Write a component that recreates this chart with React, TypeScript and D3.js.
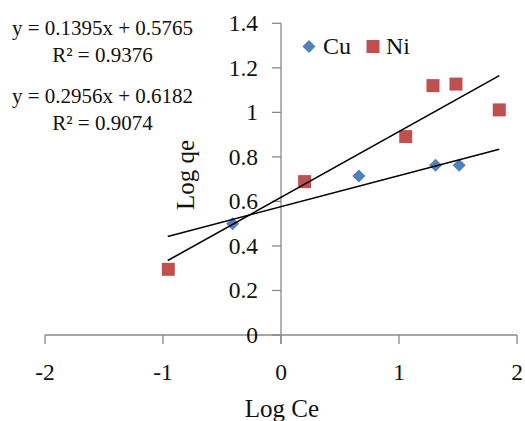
import React from "react";
import * as d3 from "d3";

const cuX = [-0.41, 0.66, 1.31, 1.51];
const cuY = [0.5, 0.714, 0.762, 0.762];
const niX = [-0.955, 0.2, 1.057, 1.288, 1.483, 1.85];
const niY = [0.295, 0.689, 0.891, 1.12, 1.127, 1.011];
const xTicks = [-2, -1, 0, 1, 2];
const yTicks = [0, 0.2, 0.4, 0.6, 0.8, 1, 1.2, 1.4];
const cuFit = { slope: 0.1395, intercept: 0.5765 };
const niFit = { slope: 0.2956, intercept: 0.6182 };
const fitRange = [-0.96, 1.85];
const eqLines = [
  "y = 0.1395x + 0.5765",
  "R² = 0.9376",
  "y = 0.2956x + 0.6182",
  "R² = 0.9074",
];

const W = 525;
const H = 421;
const FONT = "'Liberation Serif', 'Times New Roman', serif";
const BLUE = "#4F81BD";
const RED = "#C0504D";
const AXIS = "#898989";

export default function App() {
  const x = d3.scaleLinear().domain([-2, 2]).range([45, 517]);
  const y = d3.scaleLinear().domain([0, 1.4]).range([335, 23.3]);
  const x0 = x(0);
  const y0 = y(0);
  const line = d3
    .line<[number, number]>()
    .x((d) => x(d[0]))
    .y((d) => y(d[1]));
  const fitPts = (f: { slope: number; intercept: number }) =>
    fitRange.map((v) => [v, f.slope * v + f.intercept] as [number, number]);
  const fmt = (v: number) => (v === 0 ? "0" : d3.format("")(+v.toFixed(1)));
  const diamond = (cx: number, cy: number, r: number) =>
    `M${cx},${cy - r}L${cx + r},${cy}L${cx},${cy + r}L${cx - r},${cy}Z`;
  const sq = 13;

  return (
    <svg
      width={W}
      height={H}
      style={{ position: "absolute", left: 0, top: 0, background: "#fff" }}
      fontFamily={FONT}
    >
      <rect width={W} height={H} fill="#fff" />
      {/* axes */}
      <line x1={x(-2)} x2={x(2)} y1={y0} y2={y0} stroke={AXIS} strokeWidth={1.3} />
      <line x1={x0} x2={x0} y1={y(1.4)} y2={y0 + 9} stroke={AXIS} strokeWidth={1.3} />
      {xTicks.map((t) => (
        <g key={"xt" + t}>
          <line x1={x(t)} x2={x(t)} y1={y0} y2={y0 + 9} stroke={AXIS} strokeWidth={1.3} />
          <text x={x(t)} y={380} textAnchor="middle" fontSize={23.5} fill="#111">
            {t}
          </text>
        </g>
      ))}
      {yTicks.map((t) => (
        <g key={"yt" + t}>
          <line x1={x0 - 9} x2={x0} y1={y(t)} y2={y(t)} stroke={AXIS} strokeWidth={1.3} />
          <text
            x={258}
            y={y(t)}
            dy="0.34em"
            textAnchor="end"
            fontSize={23.5}
            fill="#111"
          >
            {fmt(t)}
          </text>
        </g>
      ))}
      {/* axis titles */}
      <text x={282} y={417} textAnchor="middle" fontSize={25} fill="#111">
        Log Ce
      </text>
      <text
        transform={`translate(194,175) rotate(-90)`}
        textAnchor="middle"
        fontSize={25}
        fill="#111"
      >
        Log qe
      </text>
      {/* markers */}
      {niX.map((v, i) => (
        <rect
          key={"ni" + i}
          x={x(v) - sq / 2}
          y={y(niY[i]) - sq / 2}
          width={sq}
          height={sq}
          fill={RED}
        />
      ))}
      {cuX.map((v, i) => (
        <path key={"cu" + i} d={diamond(x(v), y(cuY[i]), 6.5)} fill={BLUE} />
      ))}
      {/* trend lines */}
      <path d={line(fitPts(cuFit)) || ""} stroke="#000" strokeWidth={1.6} fill="none" />
      <path d={line(fitPts(niFit)) || ""} stroke="#000" strokeWidth={1.6} fill="none" />
      {/* legend */}
      <path d={diamond(309, 46.5, 6.5)} fill={BLUE} />
      <text x={323} y={54} fontSize={24} fill="#111">
        Cu
      </text>
      <rect x={373 - sq / 2} y={46.5 - sq / 2} width={sq} height={sq} fill={RED} />
      <text x={386} y={54} fontSize={24} fill="#111">
        Ni
      </text>
      {/* equations */}
      {eqLines.map((s, i) => (
        <text
          key={"eq" + i}
          x={102.5}
          y={[35, 62, 103, 130][i]}
          textAnchor="middle"
          fontSize={21}
          fill="#111"
        >
          {s}
        </text>
      ))}
    </svg>
  );
}
